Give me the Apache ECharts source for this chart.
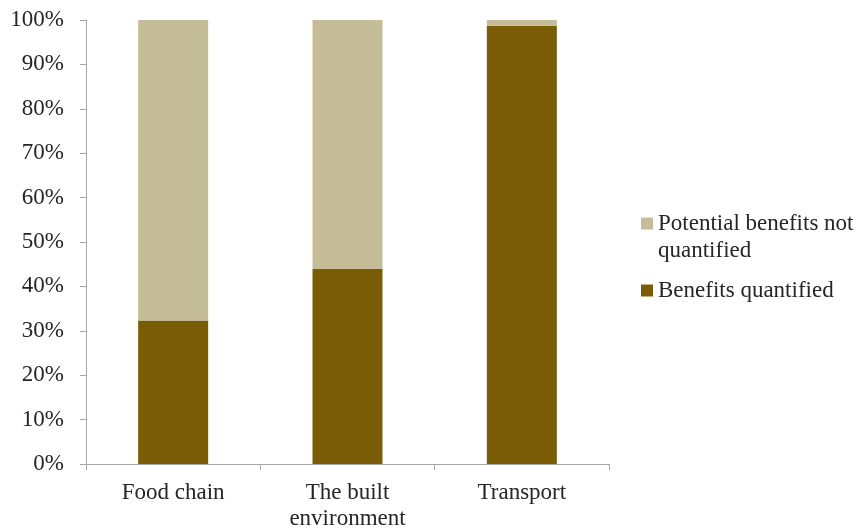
<!DOCTYPE html>
<html>
<head>
<meta charset="utf-8">
<script src="https://cdn.jsdelivr.net/npm/echarts@6/dist/echarts.min.js"></script>
<style>
  html, body { margin: 0; padding: 0; background: #fff; }
  #chart { width: 861px; height: 530px; }
</style>
</head>
<body>
<div id="chart"></div>
<script>
// categories and values (percent)
const categories = ['Food chain', 'The built\nenvironment', 'Transport']
const quantified = [32.3, 43.9, 98.7]
const notQuantified = [67.7, 56.1, 1.3]
const yTicks = [0, 10, 20, 30, 40, 50, 60, 70, 80, 90, 100]

const FONT = 'Liberation Serif'
const dark = '#7a5c07'
const light = '#c5bd97'
const axisGrey = '#a6a6a6'
const textColor = '#262626'

const chart = echarts.init(document.getElementById('chart'))

chart.setOption({
  animation: false,
  textStyle: { fontFamily: FONT },
  grid: { left: 86, right: 252, top: 20, bottom: 66, outerBoundsMode: 'none' },
  legend: {
    orient: 'vertical',
    left: 641,
    top: 183,
    padding: 0,
    itemWidth: 12,
    itemHeight: 12,
    itemGap: 13,
    icon: 'rect',
    data: ['Potential benefits not\nquantified', 'Benefits quantified'],
    // an empty first line keeps the square level with the first text line
    formatter: name => name.indexOf('\n') >= 0 ? '\n' + name : name,
    textStyle: { fontFamily: FONT, fontSize: 23, color: textColor, lineHeight: 27 }
  },
  xAxis: {
    type: 'category',
    data: categories,
    axisLine: { lineStyle: { color: axisGrey } },
    axisTick: { show: true, length: 6, lineStyle: { color: axisGrey } },
    axisLabel: { color: textColor, fontSize: 23, margin: 16, lineHeight: 26 }
  },
  yAxis: {
    type: 'value',
    min: yTicks[0],
    max: yTicks[yTicks.length - 1],
    interval: 10,
    axisLine: { show: true, lineStyle: { color: axisGrey } },
    axisTick: { show: true, length: 6, lineStyle: { color: axisGrey } },
    splitLine: { show: false },
    axisLabel: { color: textColor, fontSize: 23, margin: 22, formatter: '{value}%' }
  },
  series: [
    {
      name: 'Benefits quantified',
      type: 'bar',
      stack: 'total',
      barWidth: 70,
      data: quantified,
      itemStyle: { color: dark }
    },
    {
      name: 'Potential benefits not\nquantified',
      type: 'bar',
      stack: 'total',
      barWidth: 70,
      data: notQuantified,
      itemStyle: { color: light }
    }
  ]
})
</script>
</body>
</html>
